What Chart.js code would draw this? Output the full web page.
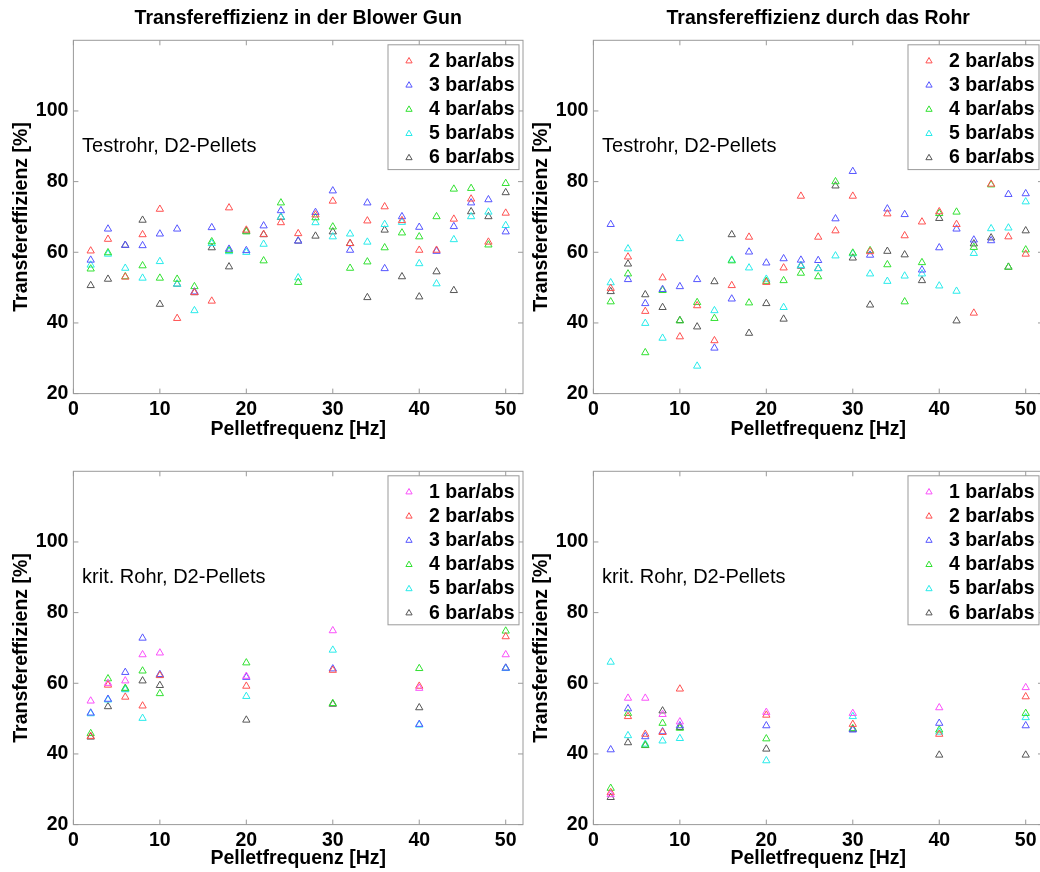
<!DOCTYPE html>
<html>
<head>
<meta charset="utf-8">
<title>Transfereffizienz</title>
<script src="https://cdn.jsdelivr.net/npm/chart.js@4.4.0/dist/chart.umd.min.js"></script>
<style>
  html, body { margin: 0; padding: 0; background: #fff; overflow: hidden; }
  #fig { position: relative; width: 1040px; height: 872px; overflow: hidden; background: #fff; }
  #fig canvas { position: absolute; }
</style>
</head>
<body>
<div id="fig">
  <canvas id="gun" width="540" height="450" style="left:0;top:0"></canvas>
  <canvas id="tube" width="540" height="450" style="left:520px;top:0"></canvas>
  <canvas id="kritGun" width="540" height="442" style="left:0;top:430px"></canvas>
  <canvas id="kritTube" width="540" height="442" style="left:520px;top:430px"></canvas>
</div>
<script>
// Pellet frequencies [Hz]
const freqFine = [2,4,6,8,10,12,14,16,18,20,22,24,26,28,30,32,34,36,38,40,42,44,46,48,50];
const freqCoarse = [2,4,6,8,10,20,30,40,50];

// Tick positions
const xTickValues = [0,10,20,30,40,50];
const yTickValues = [20,40,60,80,100];

// Pressure labels
const pressureLabels = ['1 bar/abs','2 bar/abs','3 bar/abs','4 bar/abs','5 bar/abs','6 bar/abs'];

// Transfer efficiency in the blower gun, test tube [%]
const gunBar2 = [60.4,63.7,53.0,65.0,72.2,41.3,48.6,46.2,72.6,66.3,65.1,68.4,65.3,70.6,74.5,62.5,68.9,72.9,69.0,60.6,60.6,69.4,75.1,62.9,71.1];
const gunBar3 = [57.8,66.6,62.0,61.9,65.2,66.6,48.8,67.0,60.9,60.5,67.5,71.8,63.2,71.3,77.4,60.6,74.0,55.4,70.1,67.1,60.3,67.3,74.0,74.9,65.8];
const gunBar4 = [55.3,59.9,53.1,56.2,52.7,52.4,50.3,63.0,60.5,65.8,57.6,74.0,51.5,69.8,67.2,55.5,57.3,61.3,65.5,64.4,70.1,77.9,78.1,62.1,79.5];
const gunBar5 = [56.4,59.5,55.5,52.7,57.4,51.0,43.5,62.5,60.2,60.0,62.3,70.0,52.8,68.4,64.4,65.2,62.9,67.9,68.5,56.8,51.1,63.6,70.1,71.4,67.6];
const gunBar6 = [50.6,52.4,62.0,69.1,45.3,51.0,48.6,61.3,55.9,66.0,65.0,69.9,63.2,64.6,65.8,62.5,47.2,66.3,53.1,47.4,54.5,49.2,71.5,70.1,76.9];

// Transfer efficiency through the tube, test tube [%]
const tubeBar2 = [49.8,58.7,43.3,52.8,36.1,44.9,35.0,50.6,64.3,51.5,55.6,75.9,64.3,66.1,75.9,60.2,70.9,64.7,68.6,71.5,67.9,42.8,79.3,64.4,59.5];
const tubeBar3 = [67.9,52.3,45.5,49.5,50.3,52.3,32.9,46.8,60.1,57.0,58.2,57.8,57.7,69.5,82.9,59.2,72.3,70.7,55.0,61.3,66.6,63.5,63.3,76.4,76.6];
const tubeBar4 = [46.0,53.9,31.6,49.2,40.6,45.8,41.3,57.6,45.7,51.8,52.0,54.1,53.1,80.0,59.8,60.5,56.5,46.0,57.1,71.0,71.4,61.4,79.1,55.8,60.7];
const tubeBar5 = [51.4,61.0,39.9,35.7,63.9,27.8,43.5,57.8,55.6,52.4,44.4,56.3,55.4,59.0,59.6,53.9,51.8,53.3,53.9,50.5,49.0,59.7,66.7,66.9,74.3];
const tubeBar6 = [48.9,56.7,48.0,44.4,40.7,38.9,51.7,65.0,37.1,45.5,41.1,56.1,55.4,78.8,58.4,45.1,60.3,59.3,52.0,69.6,40.6,62.4,64.1,55.8,66.1];

// Critical tube, blower gun [%]
const kritGunBar1 = [55.0,60.0,60.7,68.1,68.6,62.0,74.9,58.6,68.1];
const kritGunBar2 = [45.0,59.5,56.1,53.6,62.2,59.2,63.7,59.2,73.2];
const kritGunBar3 = [51.6,55.5,63.1,72.8,62.5,61.7,64.1,48.4,64.3];
const kritGunBar4 = [45.8,61.3,58.6,63.5,57.1,65.8,54.3,64.2,74.8];
const kritGunBar5 = [51.4,55.3,58.2,50.1,62.3,56.3,69.4,48.2,64.2];
const kritGunBar6 = [44.8,53.4,58.4,60.7,59.4,49.6,54.1,53.1,64.3];

// Critical tube, through the tube [%]
const kritTubeBar1 = [28.5,55.8,55.8,51.2,49.1,51.8,51.5,53.1,58.8];
const kritTubeBar2 = [29.1,50.6,45.6,46.1,58.4,51.0,48.4,45.6,56.2];
const kritTubeBar3 = [41.2,52.8,44.9,46.3,48.0,48.0,46.8,48.7,48.0];
const kritTubeBar4 = [30.3,51.5,42.5,48.7,47.3,44.3,47.2,46.8,51.5];
const kritTubeBar5 = [66.0,45.2,42.8,43.7,44.4,38.1,50.6,46.2,50.3];
const kritTubeBar6 = [27.7,43.2,42.4,52.2,47.5,41.4,47.0,39.7,39.7];

// Marker colours per pressure (1..6 bar)
const pressureColors = ['rgb(250,80,250)','rgb(255,80,80)','rgb(85,85,255)','rgb(50,225,50)','rgb(40,235,235)','rgb(85,85,85)'];

const FONT = "'Liberation Sans', Arial, Helvetica, sans-serif";
const FRAME = '#9a9a9a';

function triangle(ctx, x, y, r) {
  ctx.beginPath();
  for (let k = 0; k < 3; k++) {
    const a = k * 2 * Math.PI / 3;
    const px = x + Math.sin(a) * r, py = y - Math.cos(a) * r;
    if (k === 0) ctx.moveTo(px, py); else ctx.lineTo(px, py);
  }
  ctx.closePath();
  ctx.stroke();
}

// Axes box with inward tick marks on all four sides
const framePlugin = {
  id: 'frame',
  afterDatasetsDraw(chart) {
    const {ctx, chartArea: a, scales: {x, y}} = chart;
    const len = 5;
    ctx.save();
    ctx.strokeStyle = FRAME;
    ctx.lineWidth = 1;
    ctx.beginPath();
    xTickValues.forEach(v => {
      const px = x.getPixelForValue(v);
      ctx.moveTo(px, a.bottom); ctx.lineTo(px, a.bottom - len);
      ctx.moveTo(px, a.top); ctx.lineTo(px, a.top + len);
    });
    yTickValues.forEach(v => {
      const py = y.getPixelForValue(v);
      ctx.moveTo(a.left, py); ctx.lineTo(a.left + len, py);
      ctx.moveTo(a.right, py); ctx.lineTo(a.right - len, py);
    });
    ctx.stroke();
    ctx.strokeRect(a.left, a.top, a.right - a.left, a.bottom - a.top);
    ctx.restore();
  }
};

// Text note placed in data coordinates
const notePlugin = {
  id: 'note',
  afterDatasetsDraw(chart, args, opts) {
    if (!opts || !opts.text) return;
    const {ctx, scales: {x, y}} = chart;
    ctx.save();
    ctx.font = '20px ' + FONT;
    ctx.fillStyle = '#000';
    ctx.textAlign = 'left';
    ctx.textBaseline = 'middle';
    ctx.fillText(opts.text, x.getPixelForValue(opts.x), y.getPixelForValue(opts.y));
    ctx.restore();
  }
};

// Boxed legend in the upper right corner of the plot area
const boxLegendPlugin = {
  id: 'boxLegend',
  afterDraw(chart) {
    const {ctx, chartArea: a} = chart;
    const ds = chart.data.datasets;
    const rowH = 24.2;
    const top = a.top + 4.5;
    const firstY = top + 15.5;
    const bottom = firstY + (ds.length - 1) * rowH + 12.5;
    const left = a.right - 135, right = a.right - 4;
    ctx.save();
    ctx.fillStyle = '#fff';
    ctx.fillRect(left, top, right - left, bottom - top);
    ctx.strokeStyle = FRAME;
    ctx.lineWidth = 1;
    ctx.strokeRect(left, top, right - left, bottom - top);
    ctx.font = 'bold 19.5px ' + FONT;
    ctx.textAlign = 'left';
    ctx.textBaseline = 'middle';
    ds.forEach((d, i) => {
      const yy = firstY + i * rowH;
      ctx.strokeStyle = d.borderColor;
      ctx.lineWidth = 1;
      triangle(ctx, a.right - 114, yy + 0.8, 3.6);
      ctx.fillStyle = '#000';
      ctx.fillText(d.label, a.right - 94, yy + 1);
    });
    ctx.restore();
  }
};

function makeDatasets(xs, series, firstPressure) {
  return series.map((vals, i) => ({
    label: pressureLabels[firstPressure - 1 + i],
    data: xs.map((f, k) => ({x: f, y: vals[k]})),
    borderColor: pressureColors[firstPressure - 1 + i],
    backgroundColor: 'rgba(0,0,0,0)',
    pointStyle: 'triangle',
    pointRadius: 4.2,
    pointHoverRadius: 4.2,
    pointBorderWidth: 1,
    showLine: false
  }));
}

function makeChart(id, datasets, opt) {
  const tickFont = {family: FONT, size: 19.5, weight: 'bold'};
  return new Chart(document.getElementById(id), {
    type: 'scatter',
    data: {datasets},
    plugins: [framePlugin, notePlugin, boxLegendPlugin],
    options: {
      responsive: false,
      maintainAspectRatio: false,
      animation: false,
      events: [],
      layout: {padding: {top: opt.padTop, left: 0, right: 17, bottom: 0}},
      scales: {
        x: {
          type: 'linear', min: 0, max: 52,
          afterBuildTicks: s => { s.ticks = xTickValues.map(v => ({value: v})); },
          afterFit: s => { s.height = opt.xHeight; },
          grid: {display: false, drawTicks: false},
          border: {display: false},
          ticks: {font: tickFont, color: '#000', padding: 4.7, autoSkip: false, maxRotation: 0},
          title: {display: true, text: 'Pelletfrequenz [Hz]', color: '#000', font: tickFont,
                  padding: {top: 0, bottom: opt.xTitlePad}}
        },
        y: {
          type: 'linear', min: 20, max: 120,
          afterBuildTicks: s => { s.ticks = yTickValues.map(v => ({value: v})); },
          afterFit: s => { s.width = 73.4; },
          grid: {display: false, drawTicks: false},
          border: {display: false},
          ticks: {font: tickFont, color: '#000', padding: 5},
          title: {display: true, text: 'Transfereffizienz [%]', color: '#000', font: tickFont,
                  padding: {top: 10.3, bottom: 0}}
        }
      },
      plugins: {
        legend: {display: false},
        tooltip: {enabled: false},
        title: opt.title ? {
          display: true, text: opt.title, color: '#000', fullSize: false,
          font: {family: FONT, size: 19.5, weight: 'bold'},
          padding: {top: 6.5, bottom: 10.4}
        } : {display: false},
        note: {text: opt.note, x: 1, y: 90}
      }
    }
  });
}

makeChart('gun',
  makeDatasets(freqFine, [gunBar2, gunBar3, gunBar4, gunBar5, gunBar6], 2),
  {title: 'Transfereffizienz in der Blower Gun', note: 'Testrohr, D2-Pellets',
   padTop: 0, xHeight: 56.4, xTitlePad: 8.3});

makeChart('tube',
  makeDatasets(freqFine, [tubeBar2, tubeBar3, tubeBar4, tubeBar5, tubeBar6], 2),
  {title: 'Transfereffizienz durch das Rohr', note: 'Testrohr, D2-Pellets',
   padTop: 0, xHeight: 56.4, xTitlePad: 8.3});

makeChart('kritGun',
  makeDatasets(freqCoarse, [kritGunBar1, kritGunBar2, kritGunBar3, kritGunBar4, kritGunBar5, kritGunBar6], 1),
  {title: null, note: 'krit. Rohr, D2-Pellets',
   padTop: 41.3, xHeight: 47.4, xTitlePad: 1.3});

makeChart('kritTube',
  makeDatasets(freqCoarse, [kritTubeBar1, kritTubeBar2, kritTubeBar3, kritTubeBar4, kritTubeBar5, kritTubeBar6], 1),
  {title: null, note: 'krit. Rohr, D2-Pellets',
   padTop: 41.3, xHeight: 47.4, xTitlePad: 1.3});
</script>
</body>
</html>
